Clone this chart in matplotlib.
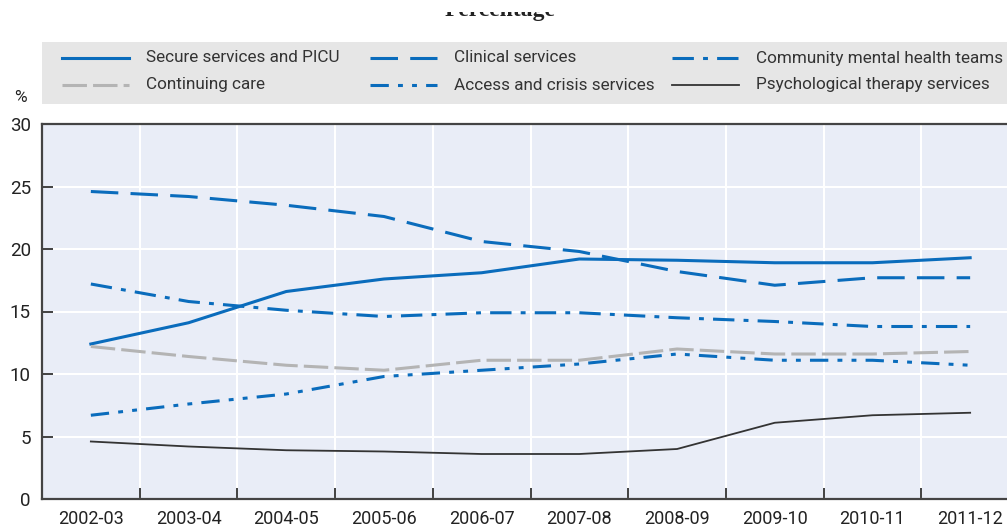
import matplotlib.pyplot as plt
from matplotlib.patches import Rectangle
from matplotlib.lines import Line2D

plt.rcParams['font.family'] = ['Roboto', 'DejaVu Sans']

years = ['2002-03', '2003-04', '2004-05', '2005-06', '2006-07',
         '2007-08', '2008-09', '2009-10', '2010-11', '2011-12']

secure = [12.4, 14.1, 16.6, 17.6, 18.1, 19.2, 19.1, 18.9, 18.9, 19.3]
clinical = [24.6, 24.2, 23.5, 22.6, 20.6, 19.8, 18.2, 17.1, 17.7, 17.7]
community = [17.2, 15.8, 15.1, 14.6, 14.9, 14.9, 14.5, 14.2, 13.8, 13.8]
continuing = [12.2, 11.4, 10.7, 10.3, 11.1, 11.1, 12.0, 11.6, 11.6, 11.8]
access = [6.7, 7.6, 8.4, 9.8, 10.3, 10.8, 11.6, 11.1, 11.1, 10.7]
psych = [4.6, 4.2, 3.9, 3.8, 3.6, 3.6, 4.0, 6.1, 6.7, 6.9]

blue = '#0a6cbc'
grey = '#b4b4b4'
W, H = 1007, 531

fig = plt.figure(figsize=(W / 100, H / 100), dpi=100)
ax = fig.add_axes([42 / W, 1 - 499 / H, (1019 - 42) / W, (499 - 124) / H])
ax.set_facecolor('#e9edf7')

x = list(range(len(years)))
styles = [
    ('Secure services and PICU', secure, blue, 2.2, '-'),
    ('Clinical services', clinical, blue, 2.2, (0, (9, 4))),
    ('Community mental health teams', community, blue, 2.2, (0, (7, 3, 1.6, 3))),
    ('Continuing care', continuing, grey, 2.2, (0, (8, 2))),
    ('Access and crisis services', access, blue, 2.2, (0, (6, 3, 1.6, 3, 1.6, 3))),
    ('Psychological therapy services', psych, '#333333', 1.3, '-'),
]
for label, vals, col, lw, ls in styles:
    ax.plot(x, vals, color=col, lw=lw, linestyle=ls, label=label, zorder=3)

ax.set_xlim(-0.5, len(years) - 0.5)
ax.set_ylim(0, 30)
ax.set_yticks(range(0, 31, 5))
ax.set_xticks(x)
ax.set_xticklabels(years)
ax.set_xticks([i + 0.5 for i in x[:-1]], minor=True)
ax.grid(False)
ax.grid(True, which='minor', axis='x', color='white', lw=1.5)
ax.grid(True, which='major', axis='y', color='white', lw=1.5)
ax.set_axisbelow(True)
ax.tick_params(axis='x', which='major', length=0, pad=8, labelsize=13, labelcolor='#222222')
ax.tick_params(axis='x', which='minor', direction='in', length=8, width=1.3, color='#333333')
ax.tick_params(axis='y', direction='in', length=8, width=1.3, color='#333333',
               labelsize=13.5, labelcolor='#222222', pad=8)
for s in ax.spines.values():
    s.set_color('#444444')
    s.set_linewidth(1.6)

fig.text(20 / W, 1 - 97 / H, '%', fontsize=12.5, color='#222222', ha='center', va='center')

# legend background band, entries laid out by hand
fig.patches.append(Rectangle((42 / W, 1 - 104 / H), 1 - 42 / W, 62 / H,
                             transform=fig.transFigure, facecolor='#e6e6e6',
                             edgecolor='none', zorder=0))
col_x = [62, 370, 672]
row_y = [58, 85]
for k, (label, vals, col, lw, ls) in enumerate(styles):
    cx = col_x[k % 3]
    ry = row_y[k // 3]
    fig.lines.append(Line2D([cx / W, (cx + 67) / W], [1 - ry / H, 1 - ry / H],
                            transform=fig.transFigure, color=col, lw=lw, linestyle=ls))
    fig.text((cx + 84) / W, 1 - ry / H, label, fontsize=12.3, color='#333333',
             ha='left', va='center')

# partly hidden title at the very top
fig.text(500 / W, 1 - 16 / H, 'Percentage', fontsize=17, fontweight='bold',
         family='Liberation Serif', ha='center', va='baseline', color='#222222')
fig.patches.append(Rectangle((0, 1 - 12 / H), 1, 12 / H, transform=fig.transFigure,
                             facecolor='white', edgecolor='none', zorder=10))

fig.savefig('out.png', dpi=100)
